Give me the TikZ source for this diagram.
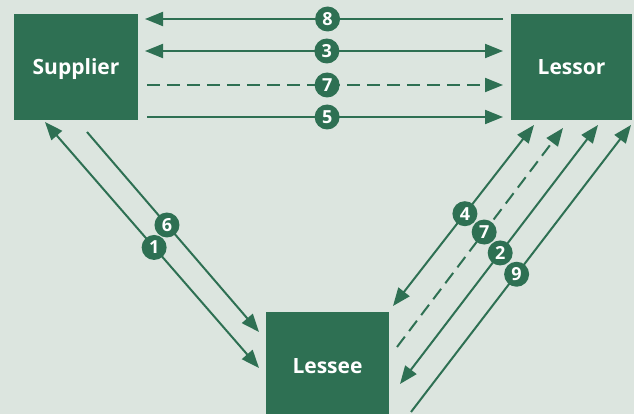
\documentclass[tikz,border=0pt]{standalone}
\usepackage{fontspec}
\setmainfont{Open Sans}
\usetikzlibrary{arrows.meta}
\definecolor{bg}{RGB}{220,229,223}
\definecolor{gr}{RGB}{46,112,83}
\begin{document}
\begin{tikzpicture}[x=1pt,y=-1pt,
  box/.style={fill=gr, draw=none, text=white, inner sep=0pt,
    font=\bfseries\fontsize{21}{24}\selectfont, text height=15pt, text depth=0pt},
  conn/.style={draw=gr, line width=2pt},
  onetip/.style={-{Triangle[length=18pt,width=14pt]}},
  twotip/.style={{Triangle[length=18pt,width=14pt]}-{Triangle[length=18pt,width=14pt]}},
  dashline/.style={dash pattern=on 13pt off 7pt},
  num/.style={circle, fill=gr, text=white, minimum size=25pt, inner sep=0pt,
    font=\bfseries\fontsize{18}{18}\selectfont}
]
\fill[bg] (0,0) rectangle (634,414);
\useasboundingbox (0,0) rectangle (634,414);

\node[box, minimum width=124pt, minimum height=106pt] (sup) at (76,67) {Supplier};
\node[box, minimum width=121pt, minimum height=106pt] (les) at (571.5,67) {Lessor};
\begin{scope}
\clip (0,0) rectangle (634,414);
\node[box, minimum width=123pt, minimum height=108pt] (lee) at (327.5,366) {Lessee};
\end{scope}

% horizontal endpoints
\coordinate (h8a) at (503,19);  \coordinate (h8b) at (145,19);
\coordinate (h3a) at (145,51);  \coordinate (h3b) at (503,51);
\coordinate (h7a) at (147,85);  \coordinate (h7b) at (503,85);
\coordinate (h5a) at (147,117); \coordinate (h5b) at (503,117);
% right diagonals
\coordinate (r4a) at (393,306); \coordinate (r4b) at (534,125);
\coordinate (r7a) at (397,347); \coordinate (r7b) at (563,128);
\coordinate (r2a) at (400,384); \coordinate (r2b) at (598,125);
\coordinate (r9a) at (411,412); \coordinate (r9b) at (631,125);
% left diagonals
\coordinate (l1a) at (45,122);  \coordinate (l1b) at (259,368);
\coordinate (l6a) at (87,132);  \coordinate (l6b) at (259,332);

\draw[conn, onetip] (h8a) -- node[num, pos=0.49] {8} (h8b);
\draw[conn, twotip] (h3a) -- node[num, pos=0.508] {3} (h3b);
\draw[conn, onetip, dashline] (h7a) -- node[num, pos=0.506] {7} (h7b);
\draw[conn, onetip] (h5a) -- node[num, pos=0.506] {5} (h5b);

\draw[conn, twotip] (r4a) -- node[num, pos=0.51] {4} (r4b);
\draw[conn, onetip, dashline] (r7a) -- node[num, pos=0.525] {7} (r7b);
\draw[conn, twotip] (r2a) -- node[num, pos=0.506] {2} (r2b);
\draw[conn, onetip] (r9a) -- node[num, pos=0.48] {9} (r9b);

\draw[conn, twotip] (l1a) -- node[num, pos=0.51] {1} (l1b);
\draw[conn, onetip] (l6a) -- node[num, pos=0.465] {6} (l6b);
\end{tikzpicture}
\end{document}
